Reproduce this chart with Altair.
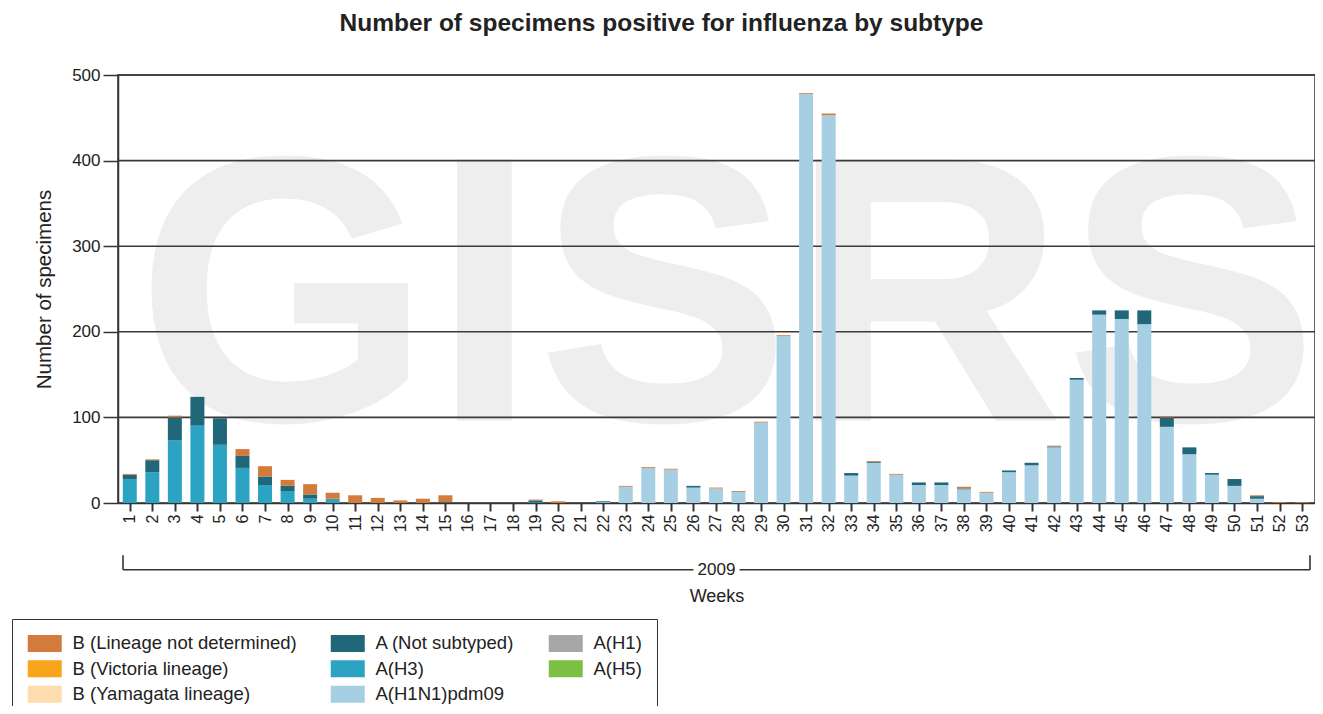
import altair as alt
import pandas as pd

FONT = "Liberation Sans, Arial, Helvetica, sans-serif"
TITLE = "Number of specimens positive for influenza by subtype"
Y_TITLE = "Number of specimens"
X_TITLE = "Weeks"
YEAR_LABEL = "2009"
WATERMARK = "GISRS"

WEEKS = list(range(1, 54))

# values, week 1 .. 53
A_H1N1PDM09 = [0, 0, 0, 0, 0, 0, 0, 0, 0, 0,
               0, 0, 0, 0, 0, 0, 0, 0, 0, 0,
               0, 1, 19, 41, 39, 18, 17, 13, 94, 195,
               478, 453, 32, 47, 33, 21, 21, 16, 12, 36,
               44, 65, 144, 220, 215, 209, 89, 57, 33, 20,
               5, 0, 0]
A_H3 = [28, 36, 73, 91, 68, 41, 21, 14, 5, 4,
        0, 0, 0, 0, 0, 0, 0, 0, 1, 0,
        0, 0, 0, 0, 0, 0, 0, 0, 0, 0,
        0, 0, 0, 0, 0, 0, 0, 0, 0, 0,
        0, 0, 0, 0, 0, 0, 0, 0, 0, 0,
        0, 0, 0]
A_NOT_SUBTYPED = [5, 14, 27, 33, 31, 14, 10, 6, 5, 1,
                  0, 0, 0, 0, 1, 0, 0, 0, 2, 0,
                  0, 1, 0, 0, 0, 2, 0, 0, 0, 0,
                  0, 0, 3, 1, 0, 3, 3, 1, 0, 2,
                  3, 1, 2, 5, 10, 16, 11, 8, 2, 8,
                  3, 0, 0]
B_NOT_DETERMINED = [1, 1, 2, 0, 0, 8, 12, 7, 12, 7,
                    9, 6, 3, 5, 8, 0, 0, 0, 1, 2,
                    0, 0, 1, 1, 1, 0, 1, 1, 1, 1,
                    1, 2, 0, 1, 1, 0, 0, 2, 1, 0,
                    0, 1, 0, 0, 0, 0, 1, 0, 0, 0,
                    1, 1, 1]

# legend order (filled column by column, 3 columns) and colours
CATEGORIES = ["B (Lineage not determined)", "B (Victoria lineage)", "B (Yamagata lineage)",
              "A (Not subtyped)", "A(H3)", "A(H1N1)pdm09",
              "A(H1)", "A(H5)"]
COLORS = ["#D27B3C", "#F8A51C", "#FDDCAF",
          "#1F6779", "#2CA3C3", "#A6CFE3",
          "#A8A6A6", "#7CC043"]
# bottom-to-top stacking order
STACK_ORDER = ["A(H1N1)pdm09", "A(H3)", "A (Not subtyped)", "A(H1)", "A(H5)",
               "B (Yamagata lineage)", "B (Victoria lineage)", "B (Lineage not determined)"]

SERIES = {
    "A(H1N1)pdm09": A_H1N1PDM09,
    "A(H3)": A_H3,
    "A (Not subtyped)": A_NOT_SUBTYPED,
    "B (Lineage not determined)": B_NOT_DETERMINED,
}

Y_TICKS = [0, 100, 200, 300, 400, 500]
GRID_VALUES = [100, 200, 300, 400, 500]

X_DOMAIN = [0.7, 53.35]
Y_DOMAIN = [0, 500]

# bracket under the week axis (in data units of the shared scales)
BRACKET_Y = -78
BRACKET_CAP = -61
BRACKET_GAP = [26.0, 28.05]
YEAR_X = 27.025
WATERMARK_X = 27.5
WATERMARK_Y = 96

rows = []
for name, vals in SERIES.items():
    for w, v in zip(WEEKS, vals):
        if v > 0:
            rows.append({"week": w, "subtype": name, "count": v,
                         "rank": STACK_ORDER.index(name)})
df = pd.DataFrame(rows)

x_scale = alt.Scale(domain=X_DOMAIN, nice=False, zero=False)
y_scale = alt.Scale(domain=Y_DOMAIN, nice=False)

x_axis = alt.Axis(values=WEEKS, labelAngle=270, labelFontSize=16, labelPadding=3,
                  tickSize=8, tickWidth=2, grid=False, title=X_TITLE,
                  titleFontSize=18, titleFontWeight="normal", titlePadding=56,
                  domainWidth=1.5, labelFlush=False, labelOverlap=False)
y_axis = alt.Axis(values=Y_TICKS, labelFontSize=17, labelPadding=3, tickSize=15,
                  tickWidth=1.5, grid=False, title=Y_TITLE, titleFontSize=20.5,
                  titleFontWeight="normal", titlePadding=17, domainWidth=1.5)


def X(field="week"):
    return alt.X(f"{field}:Q", scale=x_scale, axis=x_axis, title=X_TITLE)


def Y(field="count"):
    return alt.Y(f"{field}:Q", scale=y_scale, axis=y_axis, title=Y_TITLE)


watermark = alt.Chart(pd.DataFrame({"week": [WATERMARK_X], "count": [WATERMARK_Y], "t": [WATERMARK]})).mark_text(
    font=FONT, fontSize=380, fontWeight="bold", color="#EEEEEE", baseline="alphabetic", align="center"
).encode(x=X(), y=Y(), text="t:N")

grid = alt.Chart(pd.DataFrame({"count": GRID_VALUES})).mark_rule(color="#3A3A3A", strokeWidth=1.6).encode(
    y=Y()
)

bars = alt.Chart(df).mark_bar(size=14).encode(
    x=X(),
    y=Y(),
    color=alt.Color("subtype:N", scale=alt.Scale(domain=CATEGORIES, range=COLORS),
                    legend=alt.Legend(title=None, orient="none", legendX=-106, legendY=544,
                                      columns=3, columnPadding=33, rowPadding=6.5,
                                      labelFontSize=18.5, labelFont=FONT, labelColor="#222",
                                      labelOffset=27, symbolType="M-1,-1H3V1H-1Z",
                                      symbolSize=289, symbolStrokeWidth=0,
                                      padding=15, strokeColor="#333", fillColor="white",
                                      labelLimit=400)),
    order=alt.Order("rank:Q", sort="ascending"),
)

bracket_df = pd.DataFrame({
    "week": [X_DOMAIN[0], BRACKET_GAP[1], X_DOMAIN[0], X_DOMAIN[1]],
    "week2": [BRACKET_GAP[0], X_DOMAIN[1], X_DOMAIN[0], X_DOMAIN[1]],
    "count": [BRACKET_Y, BRACKET_Y, BRACKET_CAP, BRACKET_CAP],
    "count2": [BRACKET_Y, BRACKET_Y, BRACKET_Y, BRACKET_Y],
})
bracket = alt.Chart(bracket_df).mark_rule(color="#333", strokeWidth=1.6).encode(
    x=X(), x2="week2:Q", y=Y(), y2="count2:Q",
)
year = alt.Chart(pd.DataFrame({"week": [YEAR_X], "count": [BRACKET_Y], "t": [YEAR_LABEL]})).mark_text(
    font=FONT, fontSize=17, color="#222", baseline="middle", align="center"
).encode(x=X(), y=Y(), text="t:N")

chart = alt.layer(watermark, grid, bars, bracket, year).properties(
    width=1197, height=428,
    title=alt.TitleParams(TITLE, font=FONT, fontSize=24.5, fontWeight="bold", color="#222",
                          anchor="middle", dx=-55, baseline="alphabetic", offset=11),
    autosize=alt.AutoSizeParams(type="none"),
    padding={"left": 110, "top": 67, "right": 0, "bottom": 203},
    background="white",
).configure_view(stroke="#333", strokeWidth=1.5).configure_axis(
    labelFont=FONT, titleFont=FONT, labelColor="#222", titleColor="#222",
    domainColor="#333", tickColor="#333"
)

chart.save("out.html", embed_options={"renderer": "svg", "actions": False})
